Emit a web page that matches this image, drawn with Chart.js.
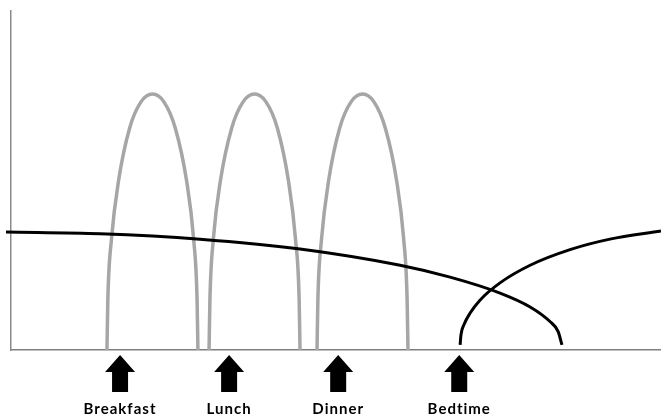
<!DOCTYPE html>
<html>
<head>
<meta charset="utf-8">
<script src="https://cdn.jsdelivr.net/npm/chart.js@4/dist/chart.umd.min.js"></script>
<style>
  html, body { margin: 0; padding: 0; background: #fff; }
  #wrap { width: 661px; height: 416px; position: relative; }
</style>
</head>
<body>
<div id="wrap"><canvas id="myChart"></canvas></div>
<script>
// time of day in hours, insulin level in arbitrary units (0-100)
const mealLabels = ['Breakfast', 'Lunch', 'Dinner', 'Bedtime'];
const mealHours = [7.0, 12.0, 17.0, 22.55];

// rapid acting doses (grey arches)
const breakfastDoseHours = [6.40, 6.44, 6.61, 6.93, 7.44, 7.96, 8.49, 9.01, 9.53, 10.05, 10.37, 10.53, 10.57];
const lunchDoseHours = [11.08, 11.12, 11.28, 11.60, 12.12, 12.64, 13.16, 13.69, 14.21, 14.72, 15.04, 15.21, 15.25];
const dinnerDoseHours = [16.03, 16.07, 16.24, 16.56, 17.07, 17.59, 18.12, 18.64, 19.16, 19.68, 20.00, 20.16, 20.20];
const rapidLevels = [0, 15.0, 32.9, 49.9, 65.5, 73.2, 75.5, 73.2, 65.5, 49.9, 32.9, 15.0, 0];

// long acting doses (black curves)
const basalFadeHours = [1.77, 6.08, 10.67, 15.25, 19.84, 22.13, 24.42, 25.80, 26.71, 27.08, 27.26];
const basalFadeLevels = [34.8, 34.3, 32.7, 29.8, 25.0, 21.5, 16.8, 12.7, 8.4, 5.5, 1.5];
const basalNightHours = [22.59, 22.63, 22.77, 23.05, 23.50, 24.42, 25.80, 27.63, 29.46, 31.80];
const basalNightLevels = [1.5, 4.5, 7.5, 10.9, 14.7, 19.8, 25.0, 29.6, 32.7, 35.1];

const hourMin = 2;
const hourMax = 31.8;

function toPoints(xs, ys) {
    return xs.map((x, i) => ({ x: x, y: ys[i] }));
}

function curve(xs, ys, color, width) {
    return {
        data: toPoints(xs, ys),
        borderColor: color,
        borderWidth: width,
        showLine: true,
        fill: false,
        pointRadius: 0,
        cubicInterpolationMode: 'monotone',
        clip: false
    };
}

// arrows + labels under the x axis, placed via the x scale
const mealMarkers = {
    id: 'mealMarkers',
    afterDraw(chart) {
        const ctx = chart.ctx;
        const xScale = chart.scales.x;
        const base = chart.chartArea.bottom;
        ctx.save();
        ctx.fillStyle = '#000';
        mealHours.forEach((h, i) => {
            const x = xScale.getPixelForValue(h);
            ctx.beginPath();
            ctx.moveTo(x, base + 5);
            ctx.lineTo(x + 15, base + 22);
            ctx.lineTo(x + 8, base + 22);
            ctx.lineTo(x + 8, base + 42);
            ctx.lineTo(x - 8, base + 42);
            ctx.lineTo(x - 8, base + 22);
            ctx.lineTo(x - 15, base + 22);
            ctx.closePath();
            ctx.fill();

            ctx.font = 'bold 15px Lato, sans-serif';
            ctx.letterSpacing = '1px';
            ctx.textAlign = 'center';
            ctx.textBaseline = 'alphabetic';
            ctx.fillText(mealLabels[i], x, base + 64);
        });
        ctx.restore();
    }
};

document.addEventListener('DOMContentLoaded', () => {
    let el = document.getElementById('myChart').getContext('2d');
    new Chart(el, {
        type: 'scatter',
        data: {
            datasets: [
                curve(basalFadeHours, basalFadeLevels, '#000000', 3),
                curve(basalNightHours, basalNightLevels, '#000000', 3),
                curve(breakfastDoseHours, rapidLevels, '#a6a6a6', 3.5),
                curve(lunchDoseHours, rapidLevels, '#a6a6a6', 3.5),
                curve(dinnerDoseHours, rapidLevels, '#a6a6a6', 3.5)
            ]
        },
        options: {
            responsive: true,
            maintainAspectRatio: false,
            animation: false,
            layout: {
                padding: { left: 3, top: 11, right: 0, bottom: 58 }
            },
            plugins: {
                legend: { display: false },
                tooltip: { enabled: false }
            },
            scales: {
                x: {
                    type: 'linear',
                    min: hourMin,
                    max: hourMax,
                    grid: { display: false },
                    ticks: { display: false },
                    border: { display: true, color: '#7f7f7f', width: 1.5 }
                },
                y: {
                    min: 0,
                    max: 100,
                    grid: { display: false },
                    ticks: { display: false },
                    border: { display: true, color: '#8a8a8a', width: 1.5 }
                }
            }
        },
        plugins: [mealMarkers]
    });
});
</script>
</body>
</html>
